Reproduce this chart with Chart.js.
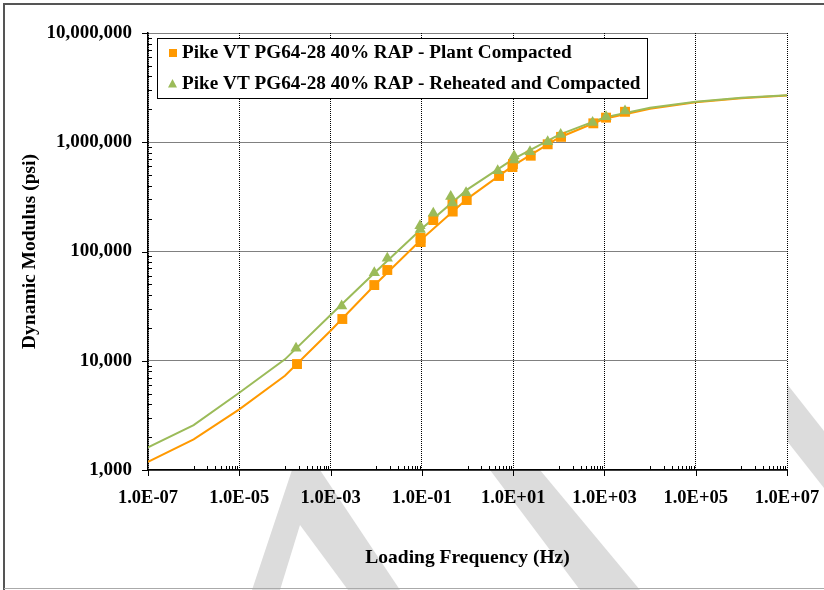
<!DOCTYPE html>
<html><head><meta charset="utf-8">
<script src="https://cdn.jsdelivr.net/npm/chart.js@4.4.0/dist/chart.umd.min.js"></script>
<style>html,body{margin:0;padding:0;background:#fff}#wrap{width:824px;height:590px;position:relative}canvas{display:block}</style>
</head><body><div id="wrap"><canvas id="c" width="824" height="590"></canvas></div>
<script>
// ---- data ----
const seriesNames = ['Pike VT PG64-28 40% RAP - Plant Compacted', 'Pike VT PG64-28 40% RAP - Reheated and Compacted'];
const plantFreq = [1.84e-4, 1.81e-3, 9.08e-3, 1.75e-2, 9.44e-2, 9.33e-2, 0.178, 0.468, 0.474, 0.962, 4.91, 9.66, 9.89, 24.3, 57.1, 112, 571, 1084, 2825];
const plantModulus = [9330, 24100, 49300, 67700, 122000, 133000, 194000, 272000, 232000, 296000, 491000, 593000, 632000, 753000, 958000, 1120000, 1490000, 1680000, 1900000];
const reheatFreq = [1.75e-4, 1.75e-3, 9.08e-3, 1.75e-2, 9.12e-2, 9.23e-2, 0.178, 0.429, 0.468, 0.929, 4.59, 10.5, 10.6, 23.4, 57.1, 110, 551, 1084, 2825];
const reheatModulus = [13000, 31700, 64000, 86700, 172000, 159000, 224000, 318000, 278000, 345000, 549000, 748000, 689000, 820000, 1010000, 1180000, 1520000, 1710000, 1930000];
const curveFreq = [1e-7, 1e-6, 1e-5, 1e-4, 1e-3, 1e-2, 1e-1, 1, 10, 100, 1e3, 1e4, 1e5, 1e6, 1e7];
const plantCurve = [1190, 1910, 3590, 7300, 18800, 51000, 130000, 305000, 610000, 1100000, 1640000, 2030000, 2320000, 2530000, 2680000];
const reheatCurve = [1610, 2580, 5100, 10300, 26200, 66000, 162000, 370000, 700000, 1170000, 1690000, 2070000, 2350000, 2550000, 2700000];
const xTickValues = [1e-7, 1e-5, 1e-3, 1e-1, 1e1, 1e3, 1e5, 1e7];
const xTickLabels = ['1.0E-07', '1.0E-05', '1.0E-03', '1.0E-01', '1.0E+01', '1.0E+03', '1.0E+05', '1.0E+07'];
const yTickValues = [1e3, 1e4, 1e5, 1e6, 1e7];
const yTickLabels = ['1,000', '10,000', '100,000', '1,000,000', '10,000,000'];
const xTitle = 'Loading Frequency (Hz)';
const yTitle = 'Dynamic Modulus (psi)';

const FONT = "'Liberation Serif','Times New Roman',serif";
const ORANGE = '#FF9900', GREEN = '#9BBB59';
const pts = (xs, ys) => xs.map((x, i) => ({x: x, y: ys[i]}));

const backdrop = {
  id: 'backdrop',
  beforeDraw(chart) {
    const ctx = chart.ctx, a = chart.chartArea;
    ctx.save();
    ctx.fillStyle = '#fff';
    ctx.fillRect(0, 0, chart.width, chart.height);
    ctx.fillStyle = '#dcdcdc';
    const polys = [
      [[252,590],[292,470],[320,470],[400,590]],
      [[490,470],[540,470],[640,590],[580,590]],
      [[787,384],[824,431],[824,488],[787,441]]
    ];
    polys.forEach(p => { ctx.beginPath(); p.forEach((q, i) => i ? ctx.lineTo(q[0], q[1]) : ctx.moveTo(q[0], q[1])); ctx.closePath(); ctx.fill(); });
    ctx.fillStyle = '#fff';
    ctx.beginPath(); ctx.moveTo(300, 525); ctx.lineTo(280, 590); ctx.lineTo(348, 590); ctx.closePath(); ctx.fill();
    ctx.fillRect(a.left, a.top, a.right - a.left, a.bottom - a.top);
    // picture frame
    ctx.strokeStyle = '#555'; ctx.lineWidth = 2;
    ctx.beginPath(); ctx.moveTo(4, 590); ctx.lineTo(4, 4); ctx.lineTo(824, 4); ctx.stroke();
    ctx.strokeStyle = '#aaa'; ctx.lineWidth = 1;
    ctx.beginPath(); ctx.moveTo(4, 588.5); ctx.lineTo(824, 588.5); ctx.stroke();
    ctx.restore();
  }
};

const axisTicks = {
  id: 'axisTicks',
  afterDraw(chart) {
    const ctx = chart.ctx, xs = chart.scales.x, ys = chart.scales.y, a = chart.chartArea;
    ctx.save();
    ctx.strokeStyle = '#000'; ctx.lineWidth = 1;
    ctx.beginPath();
    xTickValues.forEach(v => { const p = Math.round(xs.getPixelForValue(v)) + 0.5; ctx.moveTo(p, a.bottom); ctx.lineTo(p, a.bottom + 6); });
    for (let e = -6; e <= 6; e += 2) for (let k = 1; k <= 9; k++) {
      const p = Math.round(xs.getPixelForValue(k * Math.pow(10, e))) + 0.5; ctx.moveTo(p, a.bottom); ctx.lineTo(p, a.bottom - 4);
    }
    yTickValues.forEach(v => { const p = Math.round(ys.getPixelForValue(v)) + 0.5; ctx.moveTo(a.left - 6, p); ctx.lineTo(a.left, p); });
    for (let e = 3; e <= 6; e++) for (let k = 2; k <= 9; k++) {
      const p = Math.round(ys.getPixelForValue(k * Math.pow(10, e))) + 0.5; ctx.moveTo(a.left, p); ctx.lineTo(a.left + 4, p);
    }
    ctx.stroke();
    // legend
    const bx = 157.5, by = 38.5, bw = 490, bh = 60;
    ctx.fillStyle = '#fff'; ctx.fillRect(bx, by, bw, bh);
    ctx.strokeStyle = '#000'; ctx.strokeRect(bx, by, bw, bh);
    ctx.fillStyle = ORANGE; ctx.fillRect(169, 49, 8, 8);
    ctx.fillStyle = GREEN; ctx.beginPath(); ctx.moveTo(172.5, 79); ctx.lineTo(177, 87.5); ctx.lineTo(168, 87.5); ctx.closePath(); ctx.fill();
    ctx.fillStyle = '#000'; ctx.font = 'bold 19.2px ' + FONT; ctx.textBaseline = 'middle'; ctx.textAlign = 'left';
    ctx.fillText(chart.data.datasets[1].label, 182, 53);
    ctx.fillText(chart.data.datasets[0].label, 182, 84);
    ctx.restore();
  }
};

new Chart(document.getElementById('c'), {
  type: 'scatter',
  data: {
    datasets: [
      {label: seriesNames[1], data: pts(reheatFreq, reheatModulus), pointStyle: 'triangle', pointRadius: 6.5, backgroundColor: GREEN, borderColor: GREEN, borderWidth: 0, showLine: false, order: 0},
      {label: seriesNames[0], data: pts(plantFreq, plantModulus), pointStyle: 'rect', pointRadius: 7, backgroundColor: ORANGE, borderColor: ORANGE, borderWidth: 0, showLine: false, order: 1},
      {label: 'reheat fit', data: pts(curveFreq, reheatCurve), showLine: true, pointRadius: 0, borderColor: GREEN, borderWidth: 2, tension: 0, order: 2},
      {label: 'plant fit', data: pts(curveFreq, plantCurve), showLine: true, pointRadius: 0, borderColor: ORANGE, borderWidth: 2, tension: 0, order: 3}
    ]
  },
  options: {
    responsive: false, animation: false, events: [],
    layout: {padding: {top: 33, right: 37, left: 0, bottom: 0}},
    plugins: {legend: {display: false}, tooltip: {enabled: false}},
    scales: {
      x: {
        type: 'logarithmic', min: 1e-7, max: 1e7,
        afterBuildTicks: s => { s.ticks = xTickValues.map(v => ({value: v})); },
        afterFit: s => { s.height = 120; s.paddingLeft = 0; s.paddingRight = 0; },
        ticks: {callback: v => xTickLabels[xTickValues.indexOf(v)] ?? '', color: '#000', font: {family: FONT, size: 18.5, weight: 'bold'}, padding: 17, maxRotation: 0, autoSkip: false},
        grid: {color: '#000', lineWidth: 1, drawTicks: false},
        border: {display: true, color: '#000', width: 1.5, dash: [1, 1]},
        title: {display: true, text: xTitle, color: '#000', font: {family: FONT, size: 19.5, weight: 'bold'}, padding: {top: 0, bottom: 20}}
      },
      y: {
        type: 'logarithmic', min: 1e3, max: 1e7,
        afterBuildTicks: s => { s.ticks = yTickValues.map(v => ({value: v})); },
        afterFit: s => { s.width = 148; s.paddingTop = 0; s.paddingBottom = 0; },
        ticks: {callback: v => yTickLabels[yTickValues.indexOf(v)] ?? '', color: '#000', font: {family: FONT, size: 19, weight: 'bold'}, padding: 16, autoSkip: false},
        grid: {color: '#000', lineWidth: 1, drawTicks: false},
        border: {display: true, color: '#000', width: 1.5, dash: [1, 1]},
        title: {display: true, text: yTitle, color: '#000', font: {family: FONT, size: 19.5, weight: 'bold'}, padding: {top: 18, bottom: 0}}
      }
    }
  },
  plugins: [backdrop, axisTicks]
});
</script>
</body></html>
